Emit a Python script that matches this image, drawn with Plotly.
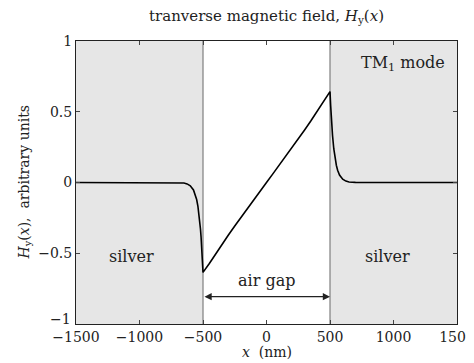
import plotly.graph_objects as go

# field profile (x in nm, Hy arbitrary units)
x_left = [-1500, -1000, -700, -650, -625, -600, -575, -560, -550, -540, -530, -520, -515, -510, -505, -500]
y_left = [0.0, 0.0, -0.001, -0.004, -0.010, -0.023, -0.053, -0.087, -0.120, -0.168, -0.235, -0.328,
          -0.388, -0.459, -0.542, -0.635]
x_gap = [-500, -450, -400, -350, -300, -250, -200, -150, -100, -50, 0,
         50, 100, 150, 200, 250, 300, 350, 400, 450, 500]
y_gap = [-0.635, -0.572, -0.503, -0.436, -0.371, -0.307, -0.244, -0.183, -0.122, -0.061, 0.0,
         0.061, 0.122, 0.183, 0.244, 0.307, 0.371, 0.436, 0.503, 0.572, 0.642]
x_right = [500, 505, 510, 515, 520, 530, 540, 550, 560, 575, 600, 625, 650, 700, 1000, 1500]
y_right = [0.642, 0.546, 0.462, 0.391, 0.331, 0.237, 0.170, 0.122, 0.087, 0.053, 0.023, 0.010,
           0.004, 0.001, 0.0, 0.0]

x_ticks = [-1500, -1000, -500, 0, 500, 1000, 1500]
x_tick_text = ["\u22121500", "\u22121000", "\u2212500", "0", "500", "1000", "1500"]
y_ticks = [-0.5, 0, 0.5, 1]
y_tick_text = ["\u22120.5", "0", "0.5", "1"]

gap_edges = [-500, 500]
x_range = [-1500, 1500]
y_range = [-1, 1]

FONT = "DejaVu Serif"
TXT = "#222"

xs = x_left + x_gap[1:] + x_right[1:]
ys = y_left + y_gap[1:] + y_right[1:]

fig = go.Figure()
fig.add_trace(go.Scatter(x=xs, y=ys, mode="lines", line=dict(color="black", width=1.6),
                         showlegend=False, hoverinfo="skip"))

shapes = [
    dict(type="rect", xref="x", yref="y", x0=x_range[0], x1=gap_edges[0], y0=y_range[0], y1=y_range[1],
         fillcolor="#e6e6e6", line=dict(width=0), layer="below"),
    dict(type="rect", xref="x", yref="y", x0=gap_edges[1], x1=x_range[1], y0=y_range[0], y1=y_range[1],
         fillcolor="#e6e6e6", line=dict(width=0), layer="below"),
]
for e in gap_edges:
    shapes.append(dict(type="line", xref="x", yref="y", x0=e, x1=e, y0=y_range[0], y1=y_range[1],
                       line=dict(color="#7f7f7f", width=1.2), layer="below"))

annotations = [
    dict(x=-1060, y=-0.52, text="silver", showarrow=False, font=dict(family=FONT, size=16, color=TXT)),
    dict(x=950, y=-0.52, text="silver", showarrow=False, font=dict(family=FONT, size=16, color=TXT)),
    dict(x=0, y=-0.69, text="air gap", showarrow=False, font=dict(family=FONT, size=16, color=TXT)),
    dict(x=1075, y=0.84, text="TM<sub>1</sub> mode", showarrow=False, font=dict(family=FONT, size=16, color=TXT)),
    # the lowest y tick label sits a little above the x tick labels
    dict(x=0, xref="paper", xanchor="right", xshift=-3, y=-0.965, yanchor="middle", text="\u22121",
         showarrow=False, font=dict(family=FONT, size=14, color=TXT)),
    # axis titles and chart title
    dict(x=0.5, xref="paper", y=0, yref="paper", yanchor="middle", yshift=-28, text="<i>x</i>  (nm)",
         showarrow=False, font=dict(family=FONT, size=14, color=TXT)),
    dict(x=0, xref="paper", xanchor="center", xshift=-52, y=0.5, yref="paper", yanchor="middle",
         text="<i>H</i><sub>y</sub>(<i>x</i>),  arbitrary units", textangle=-90,
         showarrow=False, font=dict(family=FONT, size=14, color=TXT)),
    dict(x=0.5, xref="paper", y=1, yref="paper", yanchor="middle", yshift=25,
         text="tranverse magnetic field, <i>H</i><sub>y</sub>(<i>x</i>)",
         showarrow=False, font=dict(family=FONT, size=15, color=TXT)),
    dict(x=gap_edges[1], y=-0.807, ax=gap_edges[0], ay=-0.807, xref="x", yref="y", axref="x", ayref="y",
         text="", showarrow=True, arrowhead=2, arrowsize=1.2, arrowwidth=1.2, arrowside="end+start",
         arrowcolor=TXT, standoff=0, startstandoff=0),
]

# the page body adds an 8 px offset, so the figure is 8 px smaller to fit the 474x363 window
fig.update_layout(
    width=466, height=355,
    margin=dict(l=68, r=17, t=33, b=39),
    paper_bgcolor="white", plot_bgcolor="white",
    font=dict(family=FONT, size=14, color=TXT),
    shapes=shapes, annotations=annotations,
    xaxis=dict(range=x_range, tickvals=x_ticks, ticktext=x_tick_text, ticks="inside", ticklen=4,
               tickcolor="#444", showgrid=False, zeroline=False, showline=True, linecolor=TXT, linewidth=1,
               mirror="ticks", automargin=False, ticklabeloverflow="allow",
               tickfont=dict(family=FONT, size=14)),
    yaxis=dict(range=y_range, tickvals=y_ticks, ticktext=y_tick_text, ticks="inside", ticklen=4,
               tickcolor="#444", showgrid=False, zeroline=False, showline=True, linecolor=TXT, linewidth=1,
               mirror="ticks", automargin=False, ticklabeloverflow="allow",
               tickfont=dict(family=FONT, size=14)),
)

fig.write_html("out.html")
